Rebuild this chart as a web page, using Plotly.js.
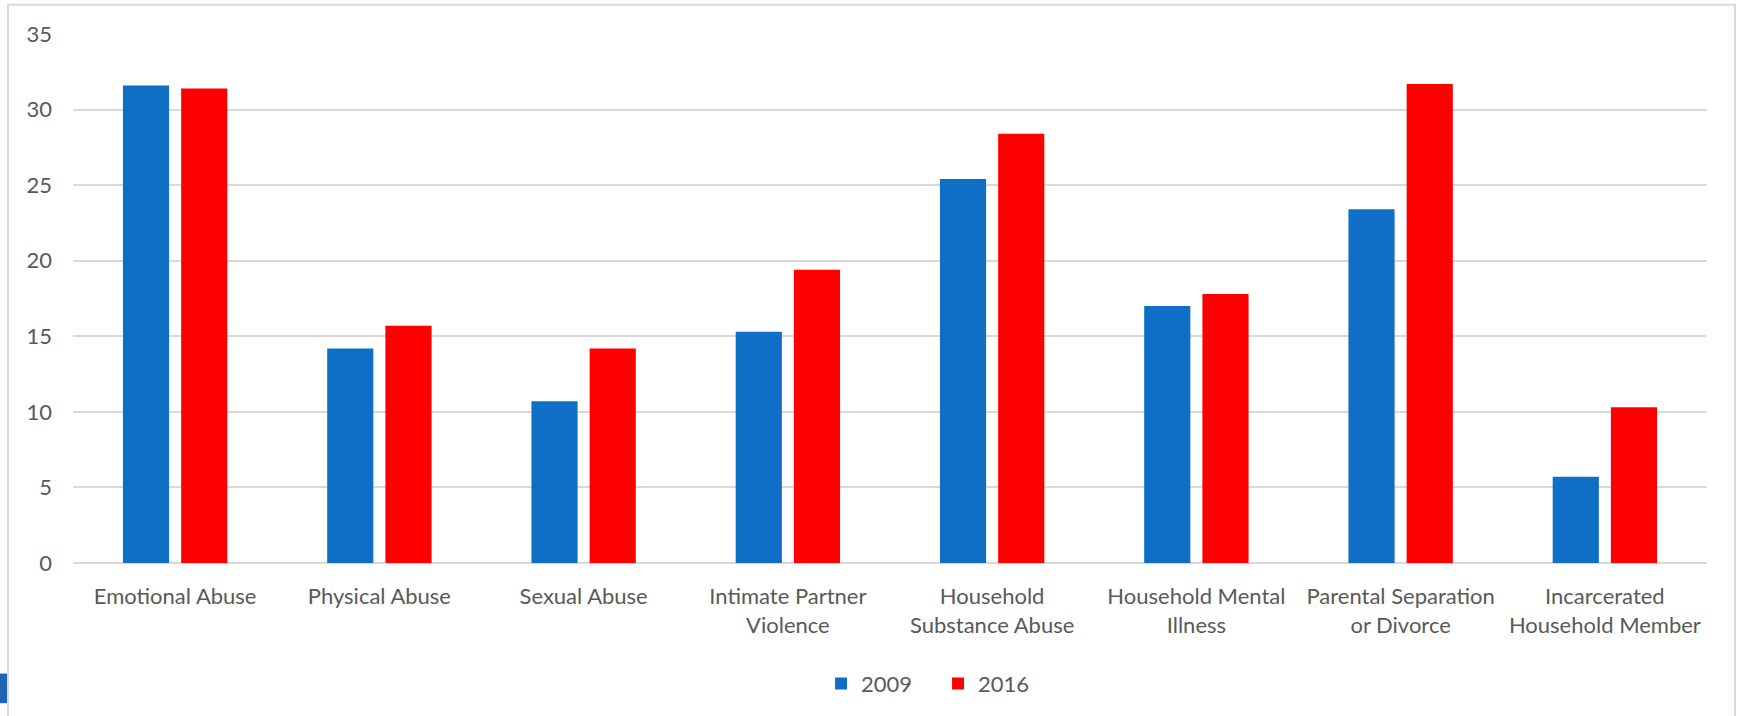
<!DOCTYPE html>
<html>
<head>
<meta charset="utf-8">
<script src="https://cdn.plot.ly/plotly-3.0.1.min.js"></script>
<style>
  html, body { margin: 0; padding: 0; background: #ffffff; }
  #chart { width: 1741px; height: 716px; }
</style>
</head>
<body>
<div id="chart"></div>
<script>
// Adverse childhood experience categories
const categories = [
  "Emotional Abuse",
  "Physical Abuse",
  "Sexual Abuse",
  "Intimate Partner<br>Violence",
  "Household<br>Substance Abuse",
  "Household Mental<br>Illness",
  "Parental Separation<br>or Divorce",
  "Incarcerated<br>Household Member"
];

// Prevalence (%) by survey year
const values2009 = [31.6, 14.2, 10.7, 15.3, 25.4, 17.0, 23.4, 5.7];
const values2016 = [31.4, 15.7, 14.2, 19.4, 28.4, 17.8, 31.7, 10.3];

const yTicks = [0, 5, 10, 15, 20, 25, 30, 35];

const textColor = "#595959";
const gridColor = "#d9d9d9";
const fontFamily = "Lato, 'Open Sans', sans-serif";

const traces = [
  { type: "bar", name: "2009", x: categories, y: values2009,
    marker: { color: "#0f6fc6" }, hoverinfo: "x+y" },
  { type: "bar", name: "2016", x: categories, y: values2016,
    marker: { color: "#ff0000" }, hoverinfo: "x+y" }
];

// frame around the chart, in paper units of the plot area
const frame = { type: "rect", xref: "paper", yref: "paper",
  x0: -0.0398, x1: 1.0171, y0: -0.40, y1: 1.0551,
  line: { color: gridColor, width: 2 }, fillcolor: "rgba(0,0,0,0)", layer: "below" };

// edge of a neighbouring blue graphic peeking in at the bottom left
const sideMark = { type: "rect", xref: "paper", yref: "paper",
  x0: -0.05, x1: -0.0404, y0: -0.265, y1: -0.209,
  line: { width: 0 }, fillcolor: "#1f63b8", layer: "above" };

const layout = {
  width: 1741, height: 716,
  margin: { l: 73, r: 34, t: 34, b: 150 },
  paper_bgcolor: "#ffffff", plot_bgcolor: "#ffffff",
  font: { family: fontFamily, size: 22, color: textColor },
  barmode: "group",
  bargap: 0.43,
  bargroupgap: 0.207,
  showlegend: true,
  legend: {
    orientation: "h", x: 0.4578, xanchor: "left", y: -0.228, yanchor: "middle",
    font: { family: fontFamily, size: 22, color: textColor },
    entrywidth: 72,
    traceorder: "normal"
  },
  xaxis: {
    type: "category",
    showgrid: false, zeroline: false, showline: false,
    ticks: "", ticklabelstandoff: 18,
    tickfont: { family: fontFamily, size: 22, color: textColor },
    fixedrange: true
  },
  yaxis: {
    range: [0, 35], tickvals: yTicks, ticktext: yTicks.map(String),
    showgrid: true, gridcolor: gridColor, gridwidth: 2,
    zeroline: true, zerolinecolor: gridColor, zerolinewidth: 2,
    showline: false, ticks: "", ticklabelstandoff: 20,
    tickfont: { family: fontFamily, size: 22, color: textColor },
    fixedrange: true
  },
  shapes: [frame, sideMark]
};

Plotly.newPlot("chart", traces, layout, { displayModeBar: false, staticPlot: true });
</script>
</body>
</html>
